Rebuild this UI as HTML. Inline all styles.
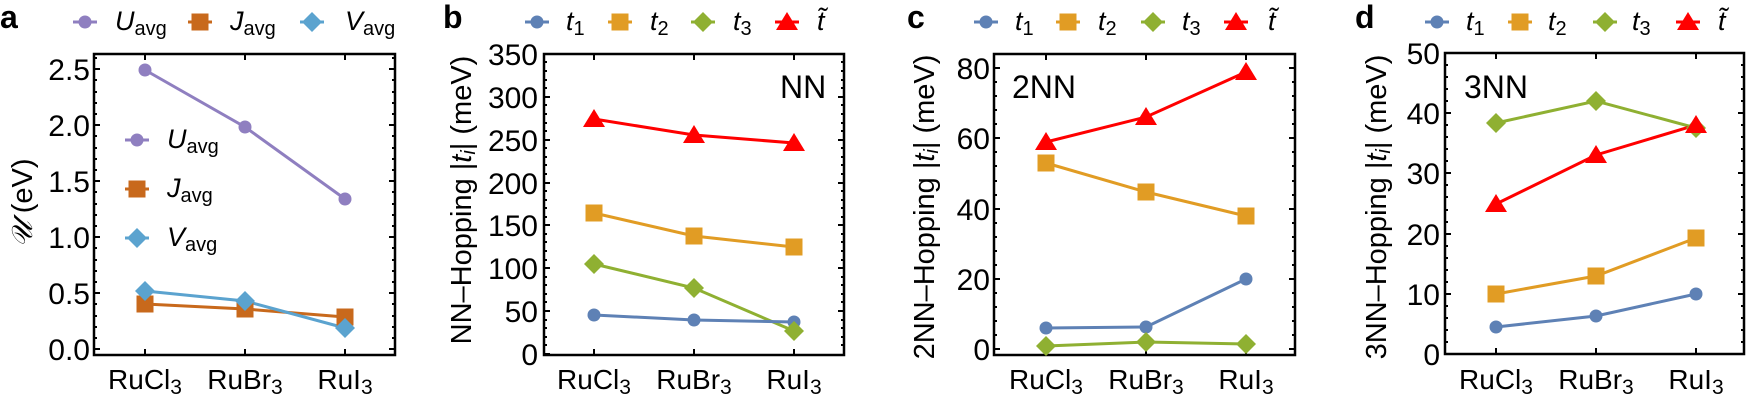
<!DOCTYPE html>
<html><head><meta charset="utf-8"><style>
html,body{margin:0;padding:0;background:#fff}
svg{display:block}
text{font-family:"Liberation Sans",Arial,sans-serif;fill:#000}
.tk{font-size:30px}
.cat{font-size:28px}
.ax{font-size:29px}
.lg{font-size:27px;font-style:italic}
.sb{font-size:20px;font-style:normal}
.pl{font-size:32px;font-weight:bold}
.fr{fill:none;stroke:#000;stroke-width:2.5}
.mt{stroke:#000;stroke-width:2}
</style></head><body>
<svg width="1747" height="396" viewBox="0 0 1747 396" xmlns="http://www.w3.org/2000/svg">
<defs>
<g id="circ"><circle r="6.5"/></g>
<g id="sq"><rect x="-8.5" y="-8.5" width="17" height="17"/></g>
<g id="dm"><polygon points="0,-10 10,0 0,10 -10,0"/></g>
<g id="tr"><polygon points="0,-10 11,8 -11,8"/></g>
</defs>

<!-- ============ PANEL A ============ -->
<text class="pl" x="0" y="28">a</text>
<g stroke-width="3">
<line x1="73" y1="22" x2="97" y2="22" stroke="#8f7fc0"/><use href="#circ" x="85" y="22" fill="#8f7fc0"/>
<line x1="188" y1="22" x2="212" y2="22" stroke="#c8691c"/><use href="#sq" x="200" y="22" fill="#c8691c"/>
<line x1="300" y1="22" x2="324" y2="22" stroke="#5ba3cf"/><use href="#dm" x="312" y="22" fill="#5ba3cf"/>
</g>
<text class="lg" x="115" y="30">U<tspan class="sb" dy="5">avg</tspan></text>
<text class="lg" x="230" y="30">J<tspan class="sb" dy="5">avg</tspan></text>
<text class="lg" x="345" y="30">V<tspan class="sb" dy="5">avg</tspan></text>

<rect class="fr" x="94" y="54" width="301" height="301"/>
<g class="mt">
<path d="M94 349h6M94 293h6M94 237h6M94 181h6M94 125h6M94 69h6M395 349h-6M395 293h-6M395 237h-6M395 181h-6M395 125h-6M395 69h-6M145 355v-6M245 355v-6M345 355v-6M145 54v6M245 54v6M345 54v6"/>
</g>
<g class="mt" stroke-width="1.5">
<path d="M94 338h3M94 327h3M94 316h3M94 304h3M94 282h3M94 271h3M94 260h3M94 248h3M94 226h3M94 215h3M94 204h3M94 192h3M94 170h3M94 159h3M94 148h3M94 136h3M94 114h3M94 103h3M94 92h3M94 80h3M94 58h3M395 338h-3M395 327h-3M395 316h-3M395 304h-3M395 282h-3M395 271h-3M395 260h-3M395 248h-3M395 226h-3M395 215h-3M395 204h-3M395 192h-3M395 170h-3M395 159h-3M395 148h-3M395 136h-3M395 114h-3M395 103h-3M395 92h-3M395 80h-3M395 58h-3"/>
</g>
<g class="tk" text-anchor="end">
<text x="90" y="360">0.0</text><text x="90" y="304">0.5</text><text x="90" y="248">1.0</text><text x="90" y="192">1.5</text><text x="90" y="136">2.0</text><text x="90" y="80">2.5</text>
</g>
<text class="ax" transform="translate(32,203) rotate(-90)" text-anchor="middle"><tspan font-style="italic" font-family="'DejaVu Serif',serif">𝒰</tspan> (eV)</text>
<g class="cat" text-anchor="middle">
<text x="145" y="389">RuCl<tspan font-size="21" dy="5">3</tspan></text>
<text x="245" y="389">RuBr<tspan font-size="21" dy="5">3</tspan></text>
<text x="345" y="389">RuI<tspan font-size="21" dy="5">3</tspan></text>
</g>
<g stroke-width="3" fill="none">
<polyline points="145,70 245,127 345,199" stroke="#8f7fc0"/>
<polyline points="145,304 245,309 345,317" stroke="#c8691c"/>
<polyline points="145,291 245,301 345,328" stroke="#5ba3cf"/>
</g>
<g fill="#8f7fc0"><use href="#circ" x="145" y="70"/><use href="#circ" x="245" y="127"/><use href="#circ" x="345" y="199"/></g>
<g fill="#c8691c"><use href="#sq" x="145" y="304"/><use href="#sq" x="245" y="309"/><use href="#sq" x="345" y="317"/></g>
<g fill="#5ba3cf"><use href="#dm" x="145" y="291"/><use href="#dm" x="245" y="301"/><use href="#dm" x="345" y="328"/></g>
<g stroke-width="3">
<line x1="125" y1="140" x2="149" y2="140" stroke="#8f7fc0"/><use href="#circ" x="137" y="140" fill="#8f7fc0"/>
<line x1="125" y1="189" x2="149" y2="189" stroke="#c8691c"/><use href="#sq" x="137" y="189" fill="#c8691c"/>
<line x1="125" y1="238" x2="149" y2="238" stroke="#5ba3cf"/><use href="#dm" x="137" y="238" fill="#5ba3cf"/>
</g>
<text class="lg" x="167" y="148">U<tspan class="sb" dy="5">avg</tspan></text>
<text class="lg" x="167" y="197">J<tspan class="sb" dy="5">avg</tspan></text>
<text class="lg" x="167" y="246">V<tspan class="sb" dy="5">avg</tspan></text>

<!-- ============ PANEL B ============ -->
<text class="pl" x="443" y="28">b</text>
<g stroke-width="3">
<line x1="525" y1="22" x2="549" y2="22" stroke="#5e81b5"/><use href="#circ" x="537" y="22" fill="#5e81b5"/>
<line x1="608" y1="22" x2="632" y2="22" stroke="#e19c24"/><use href="#sq" x="620" y="22" fill="#e19c24"/>
<line x1="691" y1="22" x2="715" y2="22" stroke="#8fb032"/><use href="#dm" x="703" y="22" fill="#8fb032"/>
<line x1="775" y1="22" x2="799" y2="22" stroke="#ff0000"/><use href="#tr" x="787" y="22" fill="#ff0000"/>
</g>
<text class="lg" x="566" y="30">t<tspan class="sb" dy="5">1</tspan></text>
<text class="lg" x="650" y="30">t<tspan class="sb" dy="5">2</tspan></text>
<text class="lg" x="733" y="30">t<tspan class="sb" dy="5">3</tspan></text>
<text class="lg" x="817" y="30">t̃</text>

<rect class="fr" x="544" y="54" width="300" height="301"/>
<g class="mt">
<path d="M544 354h6M544 311h6M544 268h6M544 225h6M544 183h6M544 140h6M544 97h6M544 54h6M844 311h-6M844 268h-6M844 225h-6M844 183h-6M844 140h-6M844 97h-6M594 355v-6M694 355v-6M794 355v-6M594 54v6M694 54v6M794 54v6"/>
</g>
<g class="mt" stroke-width="1.5">
<path d="M544 345h3M544 337h3M544 328h3M544 320h3M544 302h3M544 294h3M544 285h3M544 277h3M544 260h3M544 251h3M544 242h3M544 234h3M544 217h3M544 208h3M544 200h3M544 191h3M544 174h3M544 165h3M544 157h3M544 148h3M544 131h3M544 123h3M544 114h3M544 105h3M544 88h3M544 80h3M544 71h3M544 62h3M844 345h-3M844 337h-3M844 328h-3M844 320h-3M844 302h-3M844 294h-3M844 285h-3M844 277h-3M844 260h-3M844 251h-3M844 242h-3M844 234h-3M844 217h-3M844 208h-3M844 200h-3M844 191h-3M844 174h-3M844 165h-3M844 157h-3M844 148h-3M844 131h-3M844 123h-3M844 114h-3M844 105h-3M844 88h-3M844 80h-3M844 71h-3M844 62h-3"/>
</g>
<g class="tk" text-anchor="end">
<text x="538" y="365">0</text><text x="538" y="322">50</text><text x="538" y="279">100</text><text x="538" y="236">150</text><text x="538" y="194">200</text><text x="538" y="151">250</text><text x="538" y="108">300</text><text x="538" y="65">350</text>
</g>
<text class="ax" transform="translate(471,200) rotate(-90)" text-anchor="middle">NN–Hopping |<tspan font-style="italic">t<tspan font-size="20" dy="4">i</tspan></tspan><tspan dy="-4">| (meV)</tspan></text>
<text x="780" y="98" font-size="32">NN</text>
<g class="cat" text-anchor="middle">
<text x="594" y="389">RuCl<tspan font-size="21" dy="5">3</tspan></text>
<text x="694" y="389">RuBr<tspan font-size="21" dy="5">3</tspan></text>
<text x="794" y="389">RuI<tspan font-size="21" dy="5">3</tspan></text>
</g>
<g stroke-width="3" fill="none">
<polyline points="594,119 694,135 794,143" stroke="#ff0000"/>
<polyline points="594,213 694,236 794,247" stroke="#e19c24"/>
<polyline points="594,264 694,288 794,331" stroke="#8fb032"/>
<polyline points="594,315 694,320 794,322" stroke="#5e81b5"/>
</g>
<g fill="#5e81b5"><use href="#circ" x="594" y="315"/><use href="#circ" x="694" y="320"/><use href="#circ" x="794" y="322"/></g>
<g fill="#e19c24"><use href="#sq" x="594" y="213"/><use href="#sq" x="694" y="236"/><use href="#sq" x="794" y="247"/></g>
<g fill="#8fb032"><use href="#dm" x="594" y="264"/><use href="#dm" x="694" y="288"/><use href="#dm" x="794" y="331"/></g>
<g fill="#ff0000"><use href="#tr" x="594" y="119"/><use href="#tr" x="694" y="135"/><use href="#tr" x="794" y="143"/></g>

<!-- ============ PANEL C ============ -->
<text class="pl" x="907" y="28">c</text>
<g stroke-width="3">
<line x1="974" y1="22" x2="998" y2="22" stroke="#5e81b5"/><use href="#circ" x="986" y="22" fill="#5e81b5"/>
<line x1="1056" y1="22" x2="1080" y2="22" stroke="#e19c24"/><use href="#sq" x="1068" y="22" fill="#e19c24"/>
<line x1="1141" y1="22" x2="1165" y2="22" stroke="#8fb032"/><use href="#dm" x="1153" y="22" fill="#8fb032"/>
<line x1="1224" y1="22" x2="1248" y2="22" stroke="#ff0000"/><use href="#tr" x="1236" y="22" fill="#ff0000"/>
</g>
<text class="lg" x="1015" y="30">t<tspan class="sb" dy="5">1</tspan></text>
<text class="lg" x="1098" y="30">t<tspan class="sb" dy="5">2</tspan></text>
<text class="lg" x="1182" y="30">t<tspan class="sb" dy="5">3</tspan></text>
<text class="lg" x="1268" y="30">t̃</text>

<rect class="fr" x="994" y="54" width="301" height="301"/>
<g class="mt">
<path d="M994 349h6M994 279h6M994 209h6M994 138h6M994 68h6M1295 349h-6M1295 279h-6M1295 209h-6M1295 138h-6M1295 68h-6M1046 355v-6M1146 355v-6M1246 355v-6M1046 54v6M1146 54v6M1246 54v6"/>
</g>
<g class="mt" stroke-width="1.5">
<path d="M994 335h3M994 321h3M994 307h3M994 293h3M994 265h3M994 251h3M994 237h3M994 223h3M994 195h3M994 181h3M994 166h3M994 152h3M994 124h3M994 110h3M994 96h3M994 82h3M1295 335h-3M1295 321h-3M1295 307h-3M1295 293h-3M1295 265h-3M1295 251h-3M1295 237h-3M1295 223h-3M1295 195h-3M1295 181h-3M1295 166h-3M1295 152h-3M1295 124h-3M1295 110h-3M1295 96h-3M1295 82h-3"/>
</g>
<g class="tk" text-anchor="end">
<text x="990" y="360">0</text><text x="990" y="290">20</text><text x="990" y="220">40</text><text x="990" y="149">60</text><text x="990" y="79">80</text>
</g>
<text class="ax" transform="translate(934,207) rotate(-90)" text-anchor="middle">2NN–Hopping |<tspan font-style="italic">t<tspan font-size="20" dy="4">i</tspan></tspan><tspan dy="-4">| (meV)</tspan></text>
<text x="1012" y="98" font-size="32">2NN</text>
<g class="cat" text-anchor="middle">
<text x="1046" y="389">RuCl<tspan font-size="21" dy="5">3</tspan></text>
<text x="1146" y="389">RuBr<tspan font-size="21" dy="5">3</tspan></text>
<text x="1246" y="389">RuI<tspan font-size="21" dy="5">3</tspan></text>
</g>
<g stroke-width="3" fill="none">
<polyline points="1046,142 1146,117 1246,72" stroke="#ff0000"/>
<polyline points="1046,163 1146,192 1246,216" stroke="#e19c24"/>
<polyline points="1046,328 1146,327 1246,279" stroke="#5e81b5"/>
<polyline points="1046,346 1146,342 1246,344" stroke="#8fb032"/>
</g>
<g fill="#5e81b5"><use href="#circ" x="1046" y="328"/><use href="#circ" x="1146" y="327"/><use href="#circ" x="1246" y="279"/></g>
<g fill="#e19c24"><use href="#sq" x="1046" y="163"/><use href="#sq" x="1146" y="192"/><use href="#sq" x="1246" y="216"/></g>
<g fill="#8fb032"><use href="#dm" x="1046" y="346"/><use href="#dm" x="1146" y="342"/><use href="#dm" x="1246" y="344"/></g>
<g fill="#ff0000"><use href="#tr" x="1046" y="142"/><use href="#tr" x="1146" y="117"/><use href="#tr" x="1246" y="72"/></g>

<!-- ============ PANEL D ============ -->
<text class="pl" x="1355" y="28">d</text>
<g stroke-width="3">
<line x1="1425" y1="22" x2="1449" y2="22" stroke="#5e81b5"/><use href="#circ" x="1437" y="22" fill="#5e81b5"/>
<line x1="1508" y1="22" x2="1532" y2="22" stroke="#e19c24"/><use href="#sq" x="1520" y="22" fill="#e19c24"/>
<line x1="1593" y1="22" x2="1617" y2="22" stroke="#8fb032"/><use href="#dm" x="1605" y="22" fill="#8fb032"/>
<line x1="1676" y1="22" x2="1700" y2="22" stroke="#ff0000"/><use href="#tr" x="1688" y="22" fill="#ff0000"/>
</g>
<text class="lg" x="1466" y="30">t<tspan class="sb" dy="5">1</tspan></text>
<text class="lg" x="1548" y="30">t<tspan class="sb" dy="5">2</tspan></text>
<text class="lg" x="1632" y="30">t<tspan class="sb" dy="5">3</tspan></text>
<text class="lg" x="1718" y="30">t̃</text>

<rect class="fr" x="1445" y="53" width="299" height="301"/>
<g class="mt">
<path d="M1445 354h6M1445 294h6M1445 234h6M1445 173h6M1445 113h6M1445 53h6M1744 294h-6M1744 234h-6M1744 173h-6M1744 113h-6M1496 354v-6M1596 354v-6M1696 354v-6M1496 53v6M1596 53v6M1696 53v6"/>
</g>
<g class="mt" stroke-width="1.5">
<path d="M1445 342h3M1445 330h3M1445 318h3M1445 306h3M1445 282h3M1445 270h3M1445 258h3M1445 246h3M1445 222h3M1445 210h3M1445 197h3M1445 185h3M1445 161h3M1445 149h3M1445 137h3M1445 125h3M1445 101h3M1445 89h3M1445 77h3M1445 65h3M1744 342h-3M1744 330h-3M1744 318h-3M1744 306h-3M1744 282h-3M1744 270h-3M1744 258h-3M1744 246h-3M1744 222h-3M1744 210h-3M1744 197h-3M1744 185h-3M1744 161h-3M1744 149h-3M1744 137h-3M1744 125h-3M1744 101h-3M1744 89h-3M1744 77h-3M1744 65h-3"/>
</g>
<g class="tk" text-anchor="end">
<text x="1440" y="365">0</text><text x="1440" y="305">10</text><text x="1440" y="245">20</text><text x="1440" y="184">30</text><text x="1440" y="124">40</text><text x="1440" y="64">50</text>
</g>
<text class="ax" transform="translate(1386,207) rotate(-90)" text-anchor="middle">3NN–Hopping |<tspan font-style="italic">t<tspan font-size="20" dy="4">i</tspan></tspan><tspan dy="-4">| (meV)</tspan></text>
<text x="1464" y="98" font-size="32">3NN</text>
<g class="cat" text-anchor="middle">
<text x="1496" y="389">RuCl<tspan font-size="21" dy="5">3</tspan></text>
<text x="1596" y="389">RuBr<tspan font-size="21" dy="5">3</tspan></text>
<text x="1696" y="389">RuI<tspan font-size="21" dy="5">3</tspan></text>
</g>
<g stroke-width="3" fill="none">
<polyline points="1496,123 1596,101 1696,128" stroke="#8fb032"/>
<polyline points="1496,204 1596,155 1696,125" stroke="#ff0000"/>
<polyline points="1496,294 1596,276 1696,238" stroke="#e19c24"/>
<polyline points="1496,327 1596,316 1696,294" stroke="#5e81b5"/>
</g>
<g fill="#5e81b5"><use href="#circ" x="1496" y="327"/><use href="#circ" x="1596" y="316"/><use href="#circ" x="1696" y="294"/></g>
<g fill="#e19c24"><use href="#sq" x="1496" y="294"/><use href="#sq" x="1596" y="276"/><use href="#sq" x="1696" y="238"/></g>
<g fill="#8fb032"><use href="#dm" x="1496" y="123"/><use href="#dm" x="1596" y="101"/><use href="#dm" x="1696" y="128"/></g>
<g fill="#ff0000"><use href="#tr" x="1496" y="204"/><use href="#tr" x="1596" y="155"/><use href="#tr" x="1696" y="125"/></g>
</svg>
</body></html>
